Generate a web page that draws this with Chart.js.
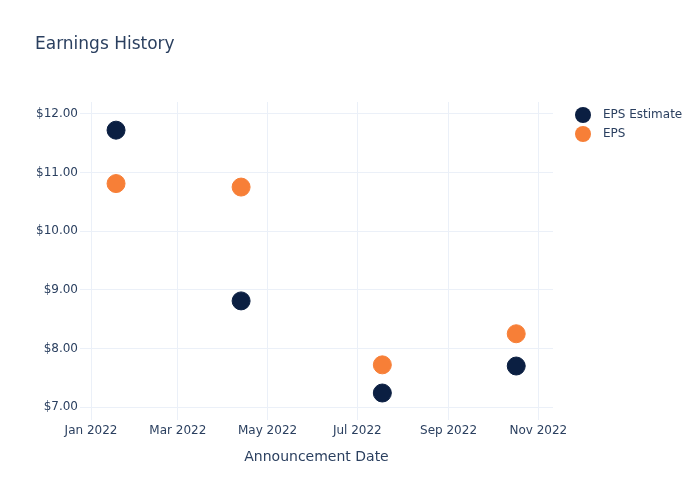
<!DOCTYPE html>
<html>
<head>
<meta charset="utf-8">
<script src="https://cdn.jsdelivr.net/npm/chart.js@4"></script>
<style>
  body { margin: 0; background: #fff; }
  #wrap { width: 700px; height: 500px; }
</style>
</head>
<body>
<div id="wrap"><canvas id="chart" width="700" height="500"></canvas></div>
<script>
// data
const announceDates = ['2022-01-18', '2022-04-13', '2022-07-18', '2022-10-17'];
const epsEstimate = [11.72, 8.81, 7.24, 7.70];
const epsActual = [10.81, 10.75, 7.72, 8.25];
const tickDates = ['2022-01-01', '2022-03-01', '2022-05-01', '2022-07-01', '2022-09-01', '2022-11-01'];
const tickLabels = ['Jan 2022', 'Mar 2022', 'May 2022', 'Jul 2022', 'Sep 2022', 'Nov 2022'];
const yTicks = [7, 8, 9, 10, 11, 12];

const textColor = '#2a3f5f';
const gridColor = '#ebf0f8';
const fontFamily = '"DejaVu Sans", sans-serif';

// days since 1 Jan 2022
const base = Date.UTC(2022, 0, 1);
function toDay(s) {
    const p = s.split('-').map(Number);
    return (Date.UTC(p[0], p[1] - 1, p[2]) - base) / 86400000;
}
const tickDays = tickDates.map(toDay);

const titlePlugin = {
    id: 'titleText',
    afterDraw(chart) {
        const ctx = chart.ctx;
        ctx.save();
        ctx.fillStyle = textColor;
        ctx.font = '17px ' + fontFamily;
        ctx.textBaseline = 'middle';
        ctx.fillText('Earnings History', 35, 45);
        ctx.restore();
    }
};

const legendPlugin = {
    id: 'sideLegend',
    afterDraw(chart) {
        const ctx = chart.ctx;
        ctx.save();
        ctx.font = '12px ' + fontFamily;
        ctx.textBaseline = 'middle';
        chart.data.datasets.forEach(function (ds, i) {
            const y = 115 + i * 19;
            ctx.beginPath();
            ctx.arc(583, y, 8, 0, Math.PI * 2);
            ctx.fillStyle = ds.backgroundColor;
            ctx.fill();
            ctx.fillStyle = textColor;
            ctx.fillText(ds.label, 603, y);
        });
        ctx.restore();
    }
};

const ctx = document.getElementById('chart').getContext('2d');
new Chart(ctx, {
    type: 'scatter',
    data: {
        datasets: [
            {
                label: 'EPS Estimate',
                data: announceDates.map((d, i) => ({ x: toDay(d), y: epsEstimate[i] })),
                backgroundColor: '#0b1f42',
                borderColor: '#0b1f42',
                pointRadius: 9,
                pointHoverRadius: 9
            },
            {
                label: 'EPS',
                data: announceDates.map((d, i) => ({ x: toDay(d), y: epsActual[i] })),
                backgroundColor: '#f77f37',
                borderColor: '#f77f37',
                pointRadius: 9,
                pointHoverRadius: 9
            }
        ]
    },
    options: {
        responsive: false,
        animation: false,
        layout: { padding: { top: 102, right: 147, bottom: 0, left: 0 } },
        plugins: {
            legend: { display: false },
            tooltip: { enabled: false }
        },
        scales: {
            x: {
                type: 'linear',
                min: -7.5,
                max: 314,
                afterBuildTicks(axis) {
                    axis.ticks = tickDays.map(v => ({ value: v }));
                },
                afterFit(axis) { axis.height = 80; },
                ticks: {
                    color: textColor,
                    font: { family: fontFamily, size: 12 },
                    padding: 4,
                    maxRotation: 0,
                    autoSkip: false,
                    callback: function (v) {
                        const i = tickDays.indexOf(v);
                        return i >= 0 ? tickLabels[i] : '';
                    }
                },
                grid: { color: gridColor, drawTicks: false },
                border: { display: false },
                title: {
                    display: true,
                    text: 'Announcement Date',
                    color: textColor,
                    font: { family: fontFamily, size: 14 },
                    padding: { top: 0, bottom: 34 }
                }
            },
            y: {
                min: 6.78,
                max: 12.2,
                afterBuildTicks(axis) {
                    axis.ticks = yTicks.map(v => ({ value: v }));
                },
                afterFit(axis) { axis.width = 80; },
                ticks: {
                    color: textColor,
                    font: { family: fontFamily, size: 12 },
                    padding: 2,
                    callback: v => '$' + v.toFixed(2)
                },
                grid: { color: gridColor, drawTicks: false },
                border: { display: false }
            }
        }
    },
    plugins: [titlePlugin, legendPlugin]
});
</script>
</body>
</html>
